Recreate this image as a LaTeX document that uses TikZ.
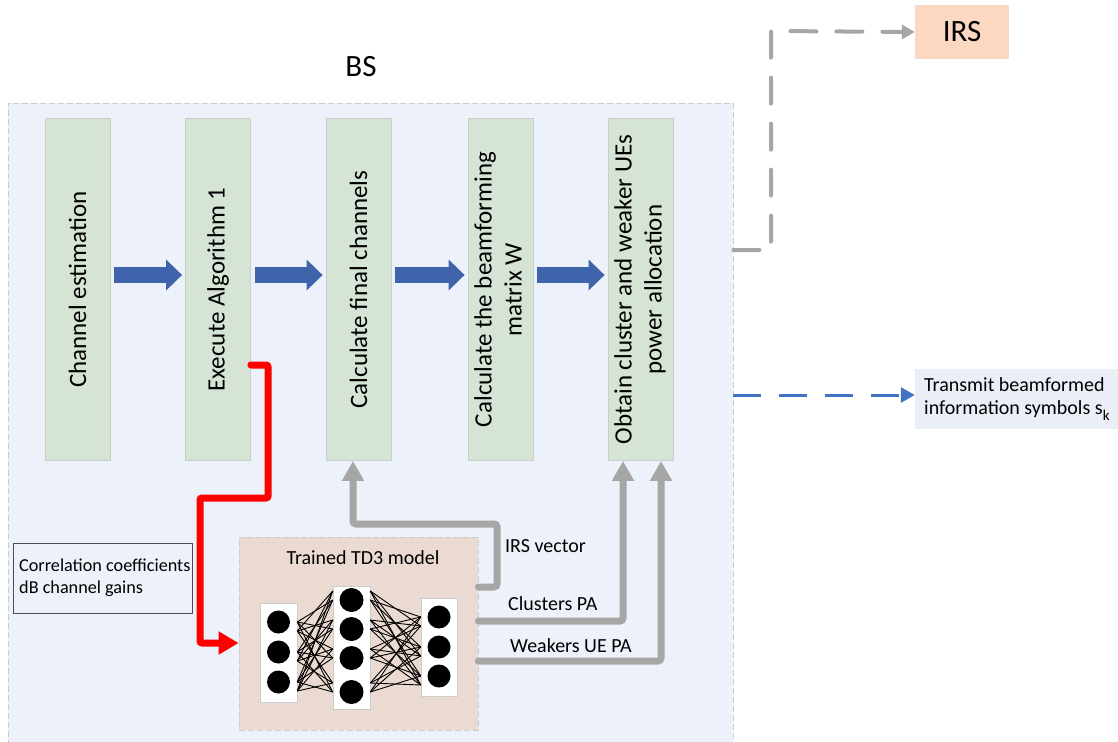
\documentclass[tikz,border=0pt]{standalone}
\usepackage{fontspec}
\setmainfont{Carlito}
\usetikzlibrary{arrows.meta,calc}
\definecolor{bsfill}{HTML}{EDF1FA}
\definecolor{gfill}{HTML}{D6E4D6}
\definecolor{gline}{HTML}{C6D0C6}
\definecolor{barrowc}{HTML}{3F64AC}
\definecolor{tdfill}{HTML}{EBDAD1}
\definecolor{grayc}{HTML}{A6A6A6}
\definecolor{irsfill}{HTML}{FBD8C1}
\definecolor{txfill}{HTML}{E9EEF7}
\definecolor{bdash}{HTML}{4472C4}
\definecolor{dline}{HTML}{CCCCCC}
\tikzset{
  bsbox/.style={draw=dline, dash pattern=on 6pt off 3pt, fill=bsfill, line width=0.8pt, minimum width=725pt, minimum height=640pt, inner sep=0pt},
  gbox/.style={draw=gline, fill=gfill, line width=0.8pt, minimum width=65pt, minimum height=342pt, inner sep=0pt, font=\fontsize{25}{30}\selectfont},
  barrow/.style={draw=barrowc, line width=16pt, line cap=butt, -{Triangle[length=16pt,width=30pt]}},
  garrow/.style={draw=grayc, line width=7pt, line cap=round, rounded corners=3pt, -{Triangle[length=20pt,width=21pt]}},
  rarrow/.style={draw=red, line width=7pt, line cap=round, rounded corners=2pt, -{Triangle[length=20pt,width=22pt]}},
  tdbox/.style={draw=dline, dash pattern=on 6pt off 3pt, fill=tdfill, line width=0.8pt, minimum width=239pt, minimum height=193pt, inner sep=0pt},
  col/.style={draw=gray!40, fill=white, line width=0.5pt, inner sep=0pt},
  neuron/.style={circle, fill=black, minimum size=23pt, inner sep=0pt},
  wire/.style={draw=black, line width=0.9pt},
  lbl/.style={font=\fontsize{20}{24}\selectfont, inner sep=0pt},
  irsdash/.style={draw=grayc, line width=4pt, line cap=round, dash pattern=on 26pt off 20pt, -{Triangle[length=13pt,width=14pt]}},
  bluedash/.style={draw=bdash, line width=3pt, dash pattern=on 28pt off 18pt, -{Triangle[length=14pt,width=15pt]}},
}
\begin{document}
\begin{tikzpicture}[x=1pt,y=-1pt]
\path[use as bounding box] (0,0) rectangle (1118,741);
% BS area
\node[font=\fontsize{31}{36}\selectfont] (bslabel) at (361,67) {BS};
\node[bsbox] (bs) at (370.5,423) {};
% process boxes
\node[gbox] (b1) at (77.5,289.5) {\rotatebox{90}{Channel estimation}};
\node[gbox] (b2) at (218,289.5) {\rotatebox{90}{Execute Algorithm 1}};
\node[gbox] (b3) at (358.5,289.5) {\rotatebox{90}{Calculate final channels}};
\node[gbox] (b4) at (500.5,289.5) {\rotatebox{90}{\begin{tabular}{@{}c@{}}Calculate the beamforming\\matrix W\end{tabular}}};
\node[gbox] (b5) at (640.5,289.5) {\rotatebox{90}{\begin{tabular}{@{}c@{}}Obtain cluster and weaker UEs\\power allocation\end{tabular}}};
% block arrows
\foreach \a/\b in {b1/b2,b2/b3,b3/b4,b4/b5}{
  \draw[barrow] ([xshift=4pt,yshift=14.5pt]\a.east) -- ([xshift=-3pt,yshift=14.5pt]\b.west);
}
% TD3 box
\node[tdbox] (td3) at (358.5,633.5) {};
\node[lbl] (td3label) at (363,558) {Trained TD3 model};
\node[col, minimum width=37pt, minimum height=99pt] (c1) at (278.5,652.5) {};
\node[col, minimum width=37pt, minimum height=123pt] (c2) at (351.5,647.5) {};
\node[col, minimum width=36pt, minimum height=98pt] (c3) at (439,647) {};
\node[neuron] (n11) at (278.5,622) {};
\node[neuron] (n12) at (278.5,652) {};
\node[neuron] (n13) at (278.5,682) {};
\node[neuron, minimum size=24pt] (n21) at (351.5,600) {};
\node[neuron, minimum size=24pt] (n22) at (351.5,629) {};
\node[neuron, minimum size=24pt] (n23) at (351.5,658) {};
\node[neuron, minimum size=24pt] (n24) at (351.5,692) {};
\node[neuron] (n31) at (439,617) {};
\node[neuron] (n32) at (439,647) {};
\node[neuron] (n33) at (439,676) {};
\foreach \i in {1,2,3}{
  \foreach \j in {1,2,3,4}{
    \draw[wire] (c1.east |- n1\i) -- (c2.west |- n2\j);
    \draw[wire] ([yshift=-9pt]c1.east |- n1\i) -- ([yshift=9pt]c2.west |- n2\j);
  }
}
\foreach \i in {1,2,3,4}{
  \foreach \j in {1,2,3}{
    \draw[wire] (c2.east |- n2\i) -- (c3.west |- n3\j);
    \draw[wire] ([yshift=9pt]c2.east |- n2\i) -- ([yshift=-9pt]c3.west |- n3\j);
  }
}
% gray arrows from TD3
\draw[garrow] (td3.east |- 0,587) -- (497,587) -- (497,524) -- (353,524) -- (b3.south -| 353,524);
\draw[garrow] (td3.east |- 0,621) -- (623,621) -- (b5.south -| 623,621);
\draw[garrow] (td3.east |- 0,661) -- (661,661) -- (b5.south -| 661,661);
\node[lbl, anchor=west] (irsv) at (505,546) {IRS vector};
\node[lbl, anchor=west] (clpa) at (508,604) {Clusters PA};
\node[lbl, anchor=west] (wkpa) at (510,646) {Weakers UE PA};
% red arrow
\draw[rarrow] (b2.east |- 0,365) -- (268,365) -- (268,498) -- (200,498) -- (200,643) -- (td3.west |- 0,643);
% correlation box
\node[draw=black!70, line width=0.8pt, fill=bsfill, minimum width=179pt, minimum height=70pt, inner sep=0pt] (corr) at (102.5,578) {};
\node[font=\fontsize{18.2}{22}\selectfont, align=left, anchor=west, inner sep=0pt] (corrtxt) at (19,578) {Correlation coefficients\\dB channel gains};
% IRS
\node[fill=irsfill, minimum width=94pt, minimum height=54pt, inner sep=0pt, font=\fontsize{31}{36}\selectfont] (irs) at (962,32) {IRS};
\draw[irsdash] (bs.east |- 0,250) -- (771,250) -- (771,31) -- (irs.west);
% transmit
\node[fill=txfill, minimum width=203pt, minimum height=60pt, inner sep=0pt] (tx) at (1016.5,399) {};
\node[font=\fontsize{20}{23}\selectfont, align=left, anchor=west, inner sep=0pt] (txt) at (924,399) {Transmit beamformed\\information symbols s\raisebox{-6pt}{\fontsize{15}{15}\selectfont k}};
\draw[bluedash] (bs.east |- 0,395) -- (tx.west |- 0,395);
\end{tikzpicture}
\end{document}
